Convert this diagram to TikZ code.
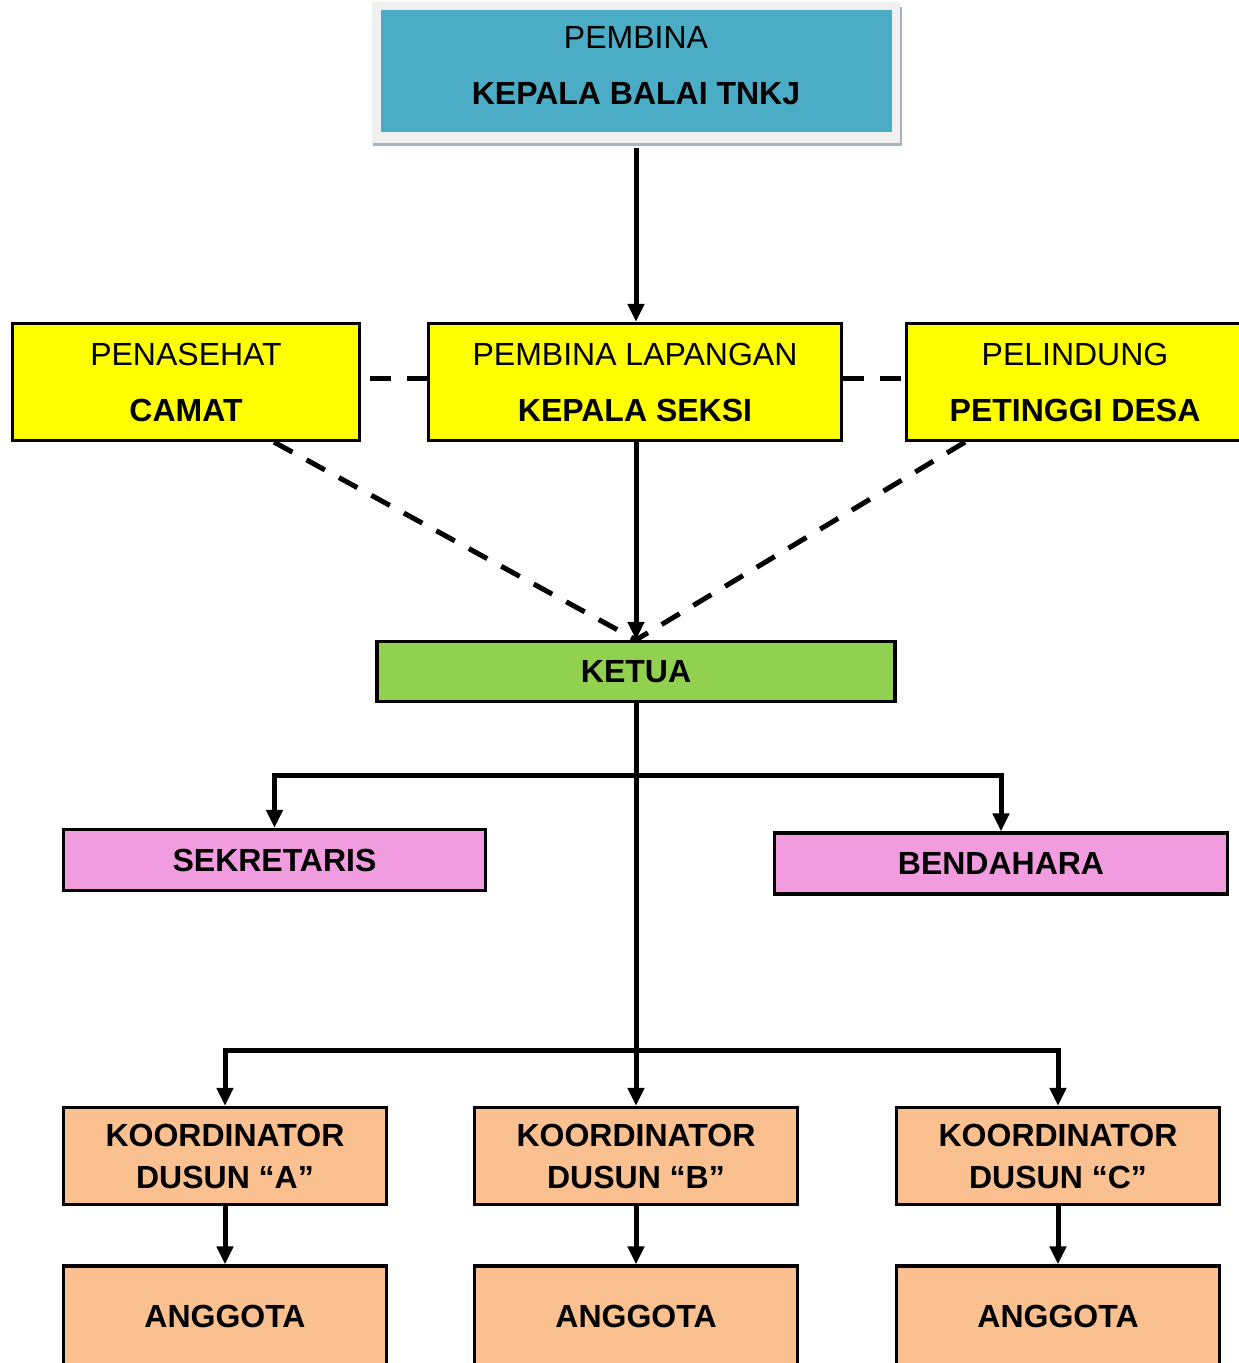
\documentclass[tikz,border=0pt]{standalone}
\usepackage{fontspec}
\setmainfont{Liberation Sans}
\usepackage{tikz}
\usetikzlibrary{positioning}
\usetikzlibrary{arrows.meta}
\definecolor{chiefblue}{HTML}{4BACC6}
\definecolor{framegray}{HTML}{F0F0F0}
\definecolor{shadowgray}{HTML}{A3B6BF}
\definecolor{advisoryellow}{HTML}{FFFF00}
\definecolor{leadergreen}{HTML}{92D050}
\definecolor{staffpink}{HTML}{F09CDF}
\definecolor{coordorange}{HTML}{FAC090}
\tikzset{
  orgbox/.style={rectangle,draw=black,line width=1.6pt,align=center,
                 inner sep=0pt,font=\fontsize{16}{28}\selectfont},
  chiefbox/.style={orgbox,draw=none,fill=chiefblue,
                   minimum width=255.5pt,minimum height=61pt},
  advisorbox/.style={orgbox,fill=advisoryellow,minimum height=58.5pt},
  leaderbox/.style={orgbox,fill=leadergreen,minimum width=259pt,
                    minimum height=30pt,font=\fontsize{16}{20}\selectfont\bfseries},
  staffbox/.style={orgbox,fill=staffpink,minimum height=30.5pt,
                   font=\fontsize{16}{20}\selectfont\bfseries},
  coordbox/.style={orgbox,fill=coordorange,minimum width=161.5pt,
                   minimum height=48.5pt,font=\fontsize{16}{21}\selectfont\bfseries},
  memberbox/.style={coordbox,minimum height=50pt},
  linkarrow/.style={line width=2.5pt,-{Triangle[length=9pt,width=8pt]}},
  advicelink/.style={line width=2.5pt,dash pattern=on 10.5pt off 8pt},
}
\begin{document}
\begin{tikzpicture}[x=0.5pt,y=-0.5pt]
  \useasboundingbox (0,0) rectangle (1238,1363);

  \fill[shadowgray] (373,7) rectangle (902,146);
  \fill[framegray] (372,2) rectangle (900,143);
  \node[chiefbox] (pembina) at (636,71)
      {PEMBINA\\\textbf{KEPALA BALAI TNKJ}\rule[-5.5pt]{0pt}{0pt}};

  \node[advisorbox,minimum width=173.5pt] (penasehat) at (186,382)
      {PENASEHAT\\\textbf{CAMAT}};
  \node[advisorbox,minimum width=206.5pt] (lapangan) at (635,382)
      {PEMBINA LAPANGAN\\\textbf{KEPALA SEKSI}};
  \node[advisorbox,minimum width=168.5pt] (pelindung) at (1075,382)
      {PELINDUNG\\\textbf{PETINGGI DESA}};

  \node[leaderbox] (ketua) at (636,671.5) {KETUA};

  \node[staffbox,minimum width=211pt] (sekretaris) at (274.5,860) {SEKRETARIS};
  \node[staffbox,minimum width=226.5pt] (bendahara) at (1001,863.5) {BENDAHARA};

  \node[coordbox] (koorA) at (225,1156)  {KOORDINATOR\\DUSUN “A”};
  \node[coordbox] (koorB) at (636,1156)  {KOORDINATOR\\DUSUN “B”};
  \node[coordbox] (koorC) at (1058,1156) {KOORDINATOR\\DUSUN “C”};

  \node[memberbox] (anggotaA) at (225,1316)  {ANGGOTA};
  \node[memberbox] (anggotaB) at (636,1316)  {ANGGOTA};
  \node[memberbox] (anggotaC) at (1058,1316) {ANGGOTA};

  \coordinate (staffbus) at (636,775);
  \coordinate (coordbus) at (636,1050);

  \draw[linkarrow,shorten <=7pt] (pembina.south) -- (pembina.south |- lapangan.north);
  \draw[linkarrow] (lapangan.south -| ketua.north) -- (ketua.north);

  \draw[advicelink,dash phase=14pt] (penasehat.east |- 0,379) -- (lapangan.west |- 0,379);
  \draw[advicelink] (lapangan.east |- 0,379) -- (pelindung.west |- 0,379);
  \draw[advicelink] (penasehat.south -| 274,0) -- (ketua.north);
  \draw[advicelink] (pelindung.south -| 965,0) -- (ketua.north);

  \draw[linkarrow] (ketua) -- (koorB);
  \draw[linkarrow] (staffbus) -| (sekretaris);
  \draw[linkarrow] (staffbus) -| (bendahara);
  \draw[linkarrow] (coordbus) -| (koorA);
  \draw[linkarrow] (coordbus) -| (koorC);

  \draw[linkarrow] (koorA) -- (anggotaA);
  \draw[linkarrow] (koorB) -- (anggotaB);
  \draw[linkarrow] (koorC) -- (anggotaC);
\end{tikzpicture}
\end{document}
